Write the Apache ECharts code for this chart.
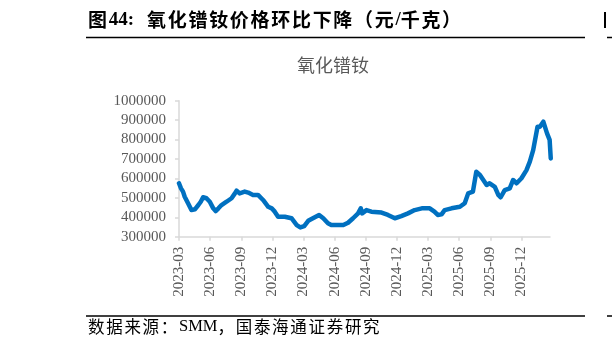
<!DOCTYPE html>
<html>
<head>
<meta charset="utf-8">
<script src="https://cdn.jsdelivr.net/npm/echarts@6/dist/echarts.min.js"></script>
<style>
html,body{margin:0;padding:0;background:#fff;}
#c{width:612px;height:346px;}
</style>
</head>
<body>
<div id="c"></div>
<script>
var dates = ['2023-03-01','2023-03-07','2023-03-13','2023-03-18','2023-03-28','2023-04-07','2023-04-17','2023-04-27','2023-05-04','2023-05-11','2023-05-21','2023-05-31','2023-06-10','2023-06-17','2023-06-25','2023-07-04','2023-07-19','2023-08-03','2023-08-13','2023-08-18','2023-08-27','2023-09-11','2023-09-21','2023-10-05','2023-10-20','2023-11-04','2023-11-19','2023-11-29','2023-12-08','2023-12-18','2024-01-07','2024-01-27','2024-02-11','2024-02-21','2024-03-03','2024-03-15','2024-03-29','2024-04-16','2024-04-28','2024-05-12','2024-05-22','2024-06-11','2024-06-26','2024-07-10','2024-07-25','2024-08-09','2024-08-17','2024-08-21','2024-09-03','2024-09-17','2024-10-17','2024-11-05','2024-11-25','2024-12-14','2025-01-03','2025-01-23','2025-02-12','2025-03-06','2025-03-20','2025-03-30','2025-04-10','2025-04-19','2025-05-09','2025-06-03','2025-06-17','2025-06-27','2025-07-11','2025-07-21','2025-08-01','2025-08-11','2025-08-21','2025-08-30','2025-09-14','2025-09-24','2025-10-01','2025-10-13','2025-10-28','2025-11-07','2025-11-17','2025-12-01','2025-12-16','2025-12-26','2026-01-05','2026-01-18','2026-01-25','2026-02-04','2026-02-14','2026-02-21','2026-02-24'];
var prices = [575000,549000,532000,506000,472000,437000,441000,463000,480000,503000,498000,480000,446000,432000,446000,463000,480000,498000,523000,537000,523000,532000,527000,515000,515000,489000,454000,446000,429000,403000,403000,395000,360000,348000,355000,382000,395000,412000,395000,369000,360000,360000,360000,372000,395000,420000,446000,420000,437000,429000,424000,412000,395000,406000,420000,437000,446000,446000,429000,412000,415000,437000,446000,454000,472000,523000,532000,634000,618000,592000,566000,575000,557000,515000,503000,540000,549000,592000,575000,601000,643000,686000,746000,866000,866000,892000,832000,798000,703000];
var tickLabels = ['2023-03','2023-06','2023-09','2023-12','2024-03','2024-06','2024-09','2024-12','2025-03','2025-06','2025-09','2025-12'];
var yMin = 300000, yMax = 1000000, yStep = 100000;
var headerText = '图44: 氧化镨钕价格环比下降（元/千克）';
var chartTitle = '氧化镨钕';
var sourceText = '数据来源：SMM，国泰海通证券研究';

function monthIndex(s) {
  var p = s.split('-').map(Number);
  var y = p[0], m = p[1], d = p[2] || 1;
  var dim = new Date(y, m, 0).getDate();
  return (y - 2023) * 12 + (m - 3) + (d - 1) / dim;
}
function labelFor(v) {
  var k = Math.round(v);
  var y = 2023 + Math.floor((k + 2) / 12);
  var m = ((k + 2) % 12) + 1;
  return y + '-' + (m < 10 ? '0' + m : m);
}
var tickVals = tickLabels.map(function (t) { return monthIndex(t + '-01'); });
var seriesData = dates.map(function (d, i) { return [monthIndex(d), prices[i]]; });

var serif = "'Liberation Serif','Times New Roman',serif";
var cjkFont = "'Noto Sans CJK SC'";
var mctx = document.createElement('canvas').getContext('2d');

function layoutText(str, x, y, size, pitch, weight, spaceW) {
  var out = [];
  var cx = x;
  for (var i = 0; i < str.length; i++) {
    var ch = str[i];
    if (ch === ' ') { cx += spaceW; continue; }
    var isCjk = ch.charCodeAt(0) > 0x2E80;
    var fam = isCjk ? cjkFont : serif;
    out.push({type: 'text', x: cx, y: y, style: {text: ch, fontFamily: fam, fontSize: size, fontWeight: weight, fill: '#000', textVerticalAlign: 'middle'}});
    if (isCjk) { cx += pitch; }
    else { mctx.font = weight + ' ' + size + 'px ' + serif; cx += mctx.measureText(ch).width; }
  }
  return out;
}

var graphics = [];
graphics = graphics.concat(layoutText(headerText, 88, 20, 19, 20.7, 'bold', 13));
graphics = graphics.concat(layoutText(sourceText, 88, 327, 16.5, 18.2, 'normal', 5));
graphics.push(
  {type: 'text', x: 333, y: 65, style: {text: chartTitle, fontFamily: cjkFont, fontSize: 18, fill: '#595959', textAlign: 'center', textVerticalAlign: 'middle'}},
  {type: 'line', shape: {x1: 86, y1: 37.5, x2: 585, y2: 37.5}, style: {stroke: '#000', lineWidth: 1.5}},
  {type: 'line', shape: {x1: 86, y1: 316, x2: 585, y2: 316}, style: {stroke: '#000', lineWidth: 1.5}},
  {type: 'rect', shape: {x: 604, y: 12, width: 2, height: 16}, style: {fill: '#000'}},
  {type: 'line', shape: {x1: 607, y1: 37.5, x2: 612, y2: 37.5}, style: {stroke: '#000', lineWidth: 1.5}},
  {type: 'line', shape: {x1: 607, y1: 316, x2: 612, y2: 316}, style: {stroke: '#000', lineWidth: 1.5}}
);

var chart = echarts.init(document.getElementById('c'), null, {renderer: 'canvas'});
chart.setOption({
  backgroundColor: '#fff',
  animation: false,
  grid: {left: 179, right: 62, top: 100.7, bottom: 109.3},
  xAxis: {
    type: 'value', min: 0, max: 35.75,
    axisLine: {show: true, lineStyle: {color: '#d9d9d9', width: 1.5}},
    axisTick: {show: true, length: 4, lineStyle: {color: '#d9d9d9', width: 1.5}, customValues: tickVals},
    splitLine: {show: false},
    axisLabel: {
      customValues: tickVals, rotate: 90, margin: 10,
      fontFamily: serif, fontSize: 15, color: '#595959',
      formatter: function (v) { return labelFor(v); }
    }
  },
  yAxis: {
    type: 'value', min: yMin, max: yMax, interval: yStep,
    axisLine: {show: true, lineStyle: {color: '#d9d9d9', width: 1.5}},
    axisTick: {show: true, length: 4, lineStyle: {color: '#d9d9d9', width: 1.5}},
    splitLine: {show: false},
    axisLabel: {margin: 13, fontFamily: serif, fontSize: 15, color: '#595959', formatter: function (v) { return String(v); }}
  },
  series: [{
    type: 'line', data: seriesData, showSymbol: false, smooth: false,
    lineStyle: {color: '#0070C0', width: 4.5, join: 'round', cap: 'round'}
  }],
  graphic: graphics
});
</script>
</body>
</html>
